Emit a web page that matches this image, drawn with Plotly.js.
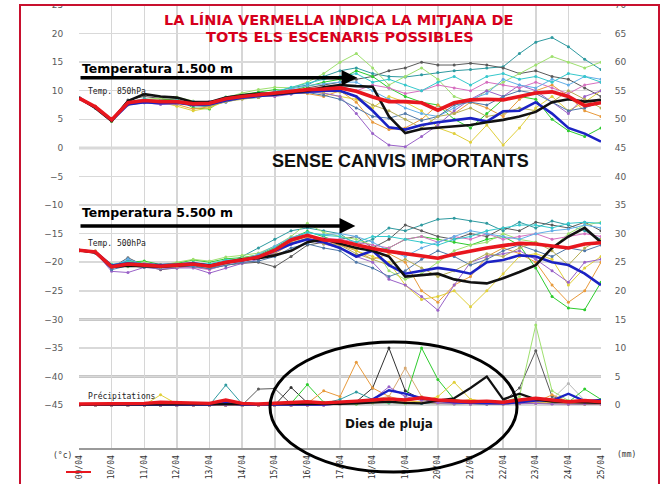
<!DOCTYPE html>
<html><head><meta charset="utf-8">
<script src="https://cdn.plot.ly/plotly-3.0.1.min.js"></script>
<style>html,body{margin:0;padding:0;background:#fff}#chart{width:662px;height:484px}</style>
</head><body><div id="chart"></div>
<script>
// time axis: days since 09/04, every 12 h
const days = [0,0.5,1,1.5,2,2.5,3,3.5,4,4.5,5,5.5,6,6.5,7,7.5,8,8.5,9,9.5,10,10.5,11,11.5,12,12.5,13,13.5,14,14.5,15,15.5,16];
const dayTicks = [0,1,2,3,4,5,6,7,8,9,10,11,12,13,14,15,16];
const dayLabels = ['09/04','10/04','11/04','12/04','13/04','14/04','15/04','16/04','17/04','18/04','19/04','20/04','21/04','22/04','23/04','24/04','25/04'];
const leftTicks = [-45,-40,-35,-30,-25,-20,-15,-10,-5,0,5,10,15,20,25];
const rightTicks = [0,5,10,15,20,25,30,35,40,45,50,55,60,65,70];

// ---- Temperature 850 hPa (°C)
const t850_mean  = [8.7,7.2,4.9,7.9,8.3,8.1,8.1,7.7,7.8,8.6,9.0,9.3,9.6,9.9,10.2,10.3,10.5,9.9,8.9,8.1,8.1,7.9,6.6,7.9,8.4,8.5,8.4,9.0,9.6,9.8,9.0,7.4,7.9];
const t850_black = [8.8,7.0,4.7,8.2,9.4,9.0,8.8,8.0,8.0,8.8,9.2,9.5,9.4,9.7,10.0,10.6,11.0,10.8,10.7,5.5,2.6,3.3,3.5,3.8,4.0,4.5,4.9,5.5,6.3,8.0,8.5,8.1,8.4];
const t850_blue  = [8.7,7.1,4.8,7.6,8.0,7.8,7.9,7.5,7.6,8.3,8.8,9.0,9.3,9.6,9.8,10.0,10.0,9.0,6.5,3.6,3.2,4.0,4.5,4.8,5.2,4.6,6.4,6.5,8.0,6.0,3.5,2.5,1.1];
const t850_teal   = [8.6,7.0,4.7,7.6,8.0,7.8,7.9,7.4,7.2,8.3,8.6,8.8,9.8,10.5,11.0,12.5,13.5,14.0,13.0,12.5,12.4,12.8,13.2,13.5,13.7,14.0,14.2,16.5,18.5,19.3,17.7,15.5,13.7];
const t850_gray   = [8.8,7.3,5.0,8.4,9.0,8.6,8.3,7.5,7.9,8.5,8.8,9.6,9.2,9.5,10.5,11.0,11.5,12.0,12.5,13.5,14.0,15.0,14.5,14.5,14.8,14.5,14.0,13.0,13.5,12.5,12.0,10.5,9.0];
const t850_green  = [8.7,7.1,4.6,7.8,8.2,8.4,8.6,7.0,6.8,8.9,9.3,9.8,10.2,10.0,10.8,11.5,12.0,13.5,12.5,10.5,9.0,8.0,7.5,5.0,3.5,6.0,8.5,9.0,8.5,5.0,3.0,2.0,3.5];
const t850_lgreen = [8.6,7.2,5.0,8.0,8.5,8.7,8.9,8.2,7.4,8.8,9.6,10.2,10.6,10.5,11.5,13.0,15.0,16.5,14.0,11.0,12.5,14.0,12.0,9.0,8.0,10.0,11.5,13.0,14.5,16.0,15.0,14.0,15.0];
const t850_orange = [8.8,7.3,4.8,7.7,8.1,7.9,7.6,6.8,7.2,8.4,8.8,9.0,9.1,9.6,9.5,9.0,10.0,8.0,4.5,3.2,3.5,5.0,7.5,6.0,8.0,7.0,5.5,8.5,10.0,11.0,9.0,6.5,5.5];
const t850_yellow = [8.7,7.2,4.6,7.5,7.9,8.0,7.3,6.5,7.0,8.2,8.7,9.1,9.4,9.9,10.0,9.5,9.0,8.5,7.0,9.0,8.0,6.5,3.5,2.5,1.0,4.0,0.5,3.5,7.0,9.0,6.5,8.0,10.0];
const t850_purple = [8.8,7.1,4.9,7.6,7.9,7.6,7.7,7.9,8.1,8.4,8.9,9.2,9.0,9.4,9.8,9.6,9.0,6.0,2.5,0.5,0.2,2.0,4.0,6.5,8.5,10.0,9.0,11.0,10.0,8.0,6.0,9.0,10.0];
const t850_pink   = [8.7,7.2,5.0,8.1,8.2,8.3,8.0,7.8,7.6,8.5,9.1,9.4,9.7,10.1,10.0,10.4,10.8,10.0,11.0,10.5,9.5,10.0,11.0,10.5,10.0,11.5,11.0,10.5,11.5,10.5,9.5,11.0,11.5];
const t850_lblue  = [8.6,7.0,4.8,7.9,8.3,8.0,8.2,8.1,7.9,8.7,9.2,9.0,9.5,10.3,10.9,11.2,11.5,11.5,10.0,8.5,7.0,6.0,5.5,7.0,8.5,9.5,12.0,11.0,10.5,12.0,11.0,12.5,12.0];
const t850_slate  = [8.7,7.1,4.9,7.7,8.4,8.1,8.0,7.4,7.5,8.0,8.7,8.9,9.9,9.5,9.7,9.2,8.5,7.0,5.5,5.2,6.0,4.8,5.5,7.5,8.0,7.5,9.0,10.0,9.5,8.0,6.5,7.0,8.0];
const t850_cyan   = [8.8,7.2,4.7,8.0,8.6,8.2,8.4,7.8,8.0,8.8,9.1,9.5,9.8,10.6,11.3,12.0,12.5,13.0,11.5,12.0,11.0,10.0,11.5,12.5,11.0,12.5,13.0,12.0,12.5,11.5,13.0,12.5,11.5];
const t850_khaki  = [8.7,7.3,4.9,7.8,8.1,8.0,7.8,7.6,7.3,8.1,8.5,8.8,9.3,9.7,9.9,9.8,9.8,9.0,7.5,6.5,5.0,3.5,5.5,6.0,7.0,5.5,6.0,7.0,6.5,8.0,10.0,8.5,7.0];

// ---- Temperature 500 hPa (°C)
const t500_mean  = [-17.9,-18.2,-20.8,-20.3,-20.5,-20.7,-20.5,-20.3,-20.7,-20.0,-19.6,-19.1,-17.9,-16.1,-15.3,-16.1,-16.3,-17.0,-17.6,-18.1,-18.5,-18.9,-19.3,-18.6,-18.0,-17.5,-17.1,-16.7,-16.8,-17.1,-17.5,-16.8,-16.6];
const t500_black = [-17.9,-18.3,-20.8,-20.6,-20.7,-20.8,-20.6,-20.4,-20.6,-20.0,-19.5,-19.3,-18.8,-18.0,-16.5,-16.0,-16.8,-17.5,-18.0,-19.0,-22.5,-22.3,-22.0,-23.0,-23.5,-23.7,-22.8,-21.7,-20.5,-17.5,-15.5,-14.0,-16.5];
const t500_blue  = [-17.9,-18.2,-20.6,-20.2,-20.4,-20.5,-20.4,-20.2,-20.6,-20.0,-19.7,-19.0,-18.0,-16.8,-16.0,-16.5,-17.5,-19.0,-18.0,-20.5,-22.0,-21.5,-21.0,-21.4,-22.0,-20.0,-19.6,-18.8,-19.0,-20.0,-20.5,-22.0,-24.0];
const t500_teal   = [-17.9,-18.4,-21.2,-19.6,-20.2,-20.9,-20.8,-20.0,-21.0,-20.3,-19.0,-17.5,-16.0,-14.5,-14.0,-14.5,-15.0,-17.0,-16.0,-14.0,-14.5,-13.5,-12.5,-12.3,-12.8,-13.2,-14.5,-13.0,-14.0,-12.8,-13.5,-14.5,-16.0];
const t500_gray   = [-18.0,-18.3,-21.0,-19.2,-20.6,-21.3,-21.0,-20.6,-21.2,-20.5,-20.2,-20.0,-20.8,-19.0,-17.0,-16.5,-16.0,-15.5,-17.5,-16.0,-13.5,-14.5,-15.5,-16.0,-15.0,-15.5,-14.0,-14.5,-13.0,-13.5,-14.0,-13.0,-14.5];
const t500_green  = [-17.9,-18.1,-20.5,-20.0,-19.8,-20.4,-20.2,-19.6,-20.0,-19.4,-19.2,-18.7,-17.4,-15.8,-14.6,-15.5,-16.5,-17.0,-18.0,-17.5,-16.0,-15.5,-16.0,-16.5,-17.0,-16.0,-15.5,-17.0,-21.0,-26.0,-28.0,-28.3,-23.5];
const t500_lgreen = [-17.8,-18.2,-20.3,-20.8,-20.0,-20.6,-20.0,-19.5,-19.8,-19.1,-18.8,-18.4,-17.2,-15.5,-13.2,-14.8,-15.5,-16.0,-17.0,-21.5,-23.0,-22.0,-20.0,-18.0,-17.0,-16.5,-15.0,-16.0,-16.5,-17.5,-15.0,-13.5,-13.0];
const t500_orange = [-17.9,-18.0,-20.9,-20.5,-20.8,-20.5,-20.3,-20.5,-20.9,-20.1,-19.8,-19.3,-18.5,-16.8,-15.8,-16.5,-17.0,-18.0,-19.5,-18.5,-20.0,-25.0,-27.0,-24.0,-22.5,-19.0,-17.5,-18.5,-20.0,-24.0,-27.0,-25.0,-20.0];
const t500_yellow = [-18.0,-18.3,-20.6,-20.2,-20.9,-20.8,-20.6,-20.2,-20.5,-19.8,-19.3,-18.8,-17.6,-16.4,-15.5,-16.0,-16.5,-18.0,-19.0,-20.0,-24.0,-26.5,-26.0,-25.0,-27.8,-25.0,-22.0,-19.0,-18.5,-19.5,-24.0,-21.0,-19.0];
const t500_purple = [-17.9,-18.3,-21.6,-21.8,-20.9,-21.2,-21.0,-21.0,-21.9,-21.0,-20.2,-19.5,-18.3,-16.9,-16.0,-16.8,-17.5,-19.0,-20.0,-23.0,-24.0,-26.0,-28.4,-24.0,-20.0,-19.0,-18.5,-18.0,-19.5,-21.5,-23.5,-20.0,-19.5];
const t500_pink   = [-17.8,-18.1,-20.7,-20.4,-20.2,-20.5,-20.8,-20.9,-21.3,-20.4,-19.7,-19.3,-18.0,-16.2,-15.4,-15.8,-16.0,-16.5,-17.0,-17.5,-16.0,-15.5,-16.5,-15.5,-16.0,-15.0,-16.0,-15.5,-15.0,-16.0,-15.5,-15.0,-15.5];
const t500_lblue  = [-17.9,-18.2,-21.0,-19.4,-20.5,-20.8,-20.3,-20.4,-20.6,-19.9,-19.5,-18.6,-17.2,-15.7,-14.8,-15.2,-15.0,-15.5,-16.5,-18.0,-19.0,-17.5,-16.5,-15.5,-14.5,-15.0,-15.5,-16.0,-15.0,-14.5,-14.2,-13.5,-14.0];
const t500_slate  = [-18.0,-18.4,-21.3,-20.6,-20.9,-21.0,-20.7,-20.8,-21.1,-20.6,-20.0,-19.8,-19.0,-17.5,-16.8,-17.5,-18.0,-20.0,-21.0,-22.5,-21.5,-19.5,-18.0,-19.0,-20.5,-19.5,-18.0,-17.0,-18.0,-19.0,-17.5,-18.0,-17.0];
const t500_cyan   = [-17.9,-18.2,-20.4,-19.9,-20.3,-20.6,-20.4,-20.1,-20.3,-19.6,-19.4,-18.9,-17.5,-15.9,-14.8,-15.3,-15.5,-16.5,-15.5,-15.5,-16.0,-16.5,-17.0,-16.0,-15.5,-14.5,-14.0,-13.5,-13.5,-14.0,-13.2,-13.0,-13.2];
const t500_khaki  = [-17.9,-18.1,-20.8,-20.4,-20.6,-20.9,-20.7,-20.4,-20.8,-20.2,-19.7,-19.2,-18.2,-16.6,-15.8,-16.8,-17.0,-18.5,-19.5,-20.5,-19.5,-21.0,-22.5,-21.5,-20.0,-18.5,-19.0,-17.5,-16.5,-18.0,-20.5,-17.5,-16.0];

// ---- Precipitation (mm, right axis)
const pr_mean   = [0.2,0.2,0.2,0.3,0.3,0.5,0.4,0.3,0.3,0.9,0.3,0.2,0.3,0.4,0.6,0.4,0.5,0.7,0.9,1.1,0.9,1.3,0.9,0.7,0.6,0.7,0.5,0.9,1.2,0.9,0.6,0.8,0.6];
const pr_black  = [0.1,0.1,0.1,0.1,0.1,0.1,0.1,0.1,0.1,0.2,0.1,0.1,0.1,0.1,0.1,0.1,0.2,0.3,0.5,0.6,0.4,0.3,0.8,1.2,3.0,5.0,1.0,2.0,1.0,0.6,0.5,0.5,0.4];
const pr_blue   = [0.1,0.1,0.1,0.1,0.1,0.1,0.1,0.1,0.1,0.4,0.1,0.1,0.1,0.1,0.2,0.1,0.3,0.5,1.0,2.6,2.0,1.2,0.8,0.5,0.4,0.3,0.3,0.5,0.8,0.8,2.0,0.7,0.9];
const pr_dark   = [0,0,0,0,0,0,0,0,0,0,0,0,0,3.1,0.4,0.1,0.3,0.6,3.0,10.0,2.5,1.0,0.4,0.3,0.2,0.2,0.2,0.3,0.5,0.3,0.2,0.2,0.2];
const pr_gray   = [0,0,0,0,0,0,0,0,0,0,0,2.8,2.9,0.2,0.1,0.1,0.2,0.3,0.5,0.4,0.3,0.4,0.3,0.2,0.3,0.4,0.6,3.0,9.5,1.5,0.6,0.4,0.3];
const pr_lgray  = [0,0,0,0,0,0,0,0,0,0,0,0,0,0,0,0,0.1,0.2,0.3,0.3,0.2,0.3,0.2,0.2,0.2,0.3,0.3,0.4,0.6,1.0,3.8,0.8,0.5];
const pr_green  = [0,0,0,0,0,0,0,0,0,0.5,0,0,0,0.3,3.6,0.5,0.3,0.2,0.5,0.4,1.0,10.0,4.5,1.0,0.5,0.3,0.4,0.6,1.2,0.8,0.5,2.8,1.0];
const pr_lgreen = [0,0,0,0,0,0,0,0,0,0,0,0,0,0,0.2,0.1,0.2,0.3,0.4,0.5,0.3,0.4,0.6,0.4,0.3,0.2,0.5,1.5,14.0,2.5,0.8,0.6,0.5];
const pr_teal   = [0,0,0,0,0,0,0,0,0,3.5,0.2,0,0,0,0.5,0.3,1.0,2.3,1.0,0.5,0.4,0.3,0.5,0.4,0.3,0.2,0.3,0.5,0.4,0.3,0.5,0.4,0.3];
const pr_orange = [0,0,0,0,0,0,0,0,0,0,0,0,0,0,0.3,2.5,1.5,7.5,3.0,1.5,0.8,0.5,0.4,0.6,1.0,0.5,0.3,0.4,0.5,1.8,0.6,0.3,0.3];
const pr_tan    = [0,0,0,0,0,0,0,0,0,0,0,0,0,0,0,0,0.2,0.4,1.0,1.5,6.5,1.5,0.5,0.4,0.3,0.3,0.2,0.3,0.4,0.5,0.3,0.2,0.2];
const pr_yellow = [0,0,0,0,0,1.8,0.2,0,0,0,0,0,0,0,0,0.2,0.3,0.5,0.6,0.8,0.5,0.6,1.5,4.0,1.0,0.6,0.4,0.3,0.3,0.4,0.3,0.2,0.2];
const pr_purple = [0,0,0,0,0,0,0,0,0,0,0,0,0,0,0,0,0.2,0.5,1.0,3.2,1.5,0.8,0.4,0.3,0.2,0.2,0.2,0.3,0.3,0.2,0.2,0.2,0.2];

const C = {teal:'#2f9aa0', gray:'#5a5a5a', green:'#2ecc2e', lgreen:'#9ee06e', orange:'#e89a3c', yellow:'#e0cf3a',
  purple:'#9a62c8', pink:'#d66fc0', lblue:'#62aee6', slate:'#4f78a8', cyan:'#35c8cc', khaki:'#b5ad55',
  dark:'#303030', lgray:'#b8b8b8', tan:'#d8a870'};

const traces = [];
function thin(y, col, axis){
  traces.push({x: days, y: y, type:'scatter', mode:'lines+markers', yaxis: axis||'y',
    line:{color:col, width:1}, marker:{color:col, size:3}, hoverinfo:'skip'});
}
function thick(y, col, w, axis){
  traces.push({x: days, y: y, type:'scatter', mode:'lines', yaxis: axis||'y',
    line:{color:col, width:w}, hoverinfo:'skip'});
}
[[t850_teal,'teal'],[t850_gray,'gray'],[t850_green,'green'],[t850_lgreen,'lgreen'],[t850_orange,'orange'],[t850_yellow,'yellow'],
 [t850_purple,'purple'],[t850_pink,'pink'],[t850_lblue,'lblue'],[t850_slate,'slate'],[t850_cyan,'cyan'],[t850_khaki,'khaki']]
 .forEach(d=>thin(d[0], C[d[1]]));
[[t500_teal,'teal'],[t500_gray,'gray'],[t500_green,'green'],[t500_lgreen,'lgreen'],[t500_orange,'orange'],[t500_yellow,'yellow'],
 [t500_purple,'purple'],[t500_pink,'pink'],[t500_lblue,'lblue'],[t500_slate,'slate'],[t500_cyan,'cyan'],[t500_khaki,'khaki']]
 .forEach(d=>thin(d[0], C[d[1]]));
[[pr_dark,'dark'],[pr_gray,'gray'],[pr_lgray,'lgray'],[pr_green,'green'],[pr_lgreen,'lgreen'],[pr_teal,'teal'],
 [pr_orange,'orange'],[pr_tan,'tan'],[pr_yellow,'yellow'],[pr_purple,'purple']]
 .forEach(d=>thin(d[0], C[d[1]], 'y2'));
thick(t850_blue,'#1b22c4',2.6); thick(t850_black,'#111111',2.6); thick(t850_mean,'#e8161e',3.6);
thick(t500_blue,'#1b22c4',2.6); thick(t500_black,'#111111',2.6); thick(t500_mean,'#e8161e',3.6);
thick(pr_blue,'#1b22c4',2.4,'y2'); thick(pr_black,'#111111',2.2,'y2'); thick(pr_mean,'#e8161e',3.4,'y2');

// pixel -> paper helpers (plot area: x 79..601, y 5..448)
const px = v => (v-79)/522, py = v => (448-v)/443;

const tickFont = {family:'DejaVu Sans, Verdana, sans-serif', size:9, color:'#5a5a5a'};
const layout = {
  width:662, height:484, margin:{l:79, r:61, t:5, b:36},
  paper_bgcolor:'#ffffff', plot_bgcolor:'#ffffff', showlegend:false,
  xaxis:{range:[0,16], tickmode:'array', tickvals:dayTicks, ticktext:dayLabels, tickangle:-90,
    showgrid:true, gridcolor:'#d6d6d6', gridwidth:1.5, zeroline:false,
    showline:true, linecolor:'#9a9a9a', linewidth:2, ticks:'outside', ticklen:2, tickcolor:'rgba(0,0,0,0)',
    tickfont:{family:'DejaVu Sans Mono, monospace', size:8, color:'#333'}, fixedrange:true},
  yaxis:{range:[-52.5,25], tickmode:'array', tickvals:leftTicks, showgrid:true, gridcolor:'#d9d9d9', gridwidth:1.5,
    zeroline:false, ticks:'outside', ticklen:13, tickcolor:'rgba(0,0,0,0)', tickfont:tickFont, fixedrange:true},
  yaxis2:{range:[-7.5,70], overlaying:'y', side:'right', tickmode:'array', tickvals:rightTicks, showgrid:false,
    zeroline:false, ticks:'outside', ticklen:11, tickcolor:'rgba(0,0,0,0)', tickfont:tickFont, fixedrange:true},
  shapes:[
    {type:'line', xref:'paper', x0:0, x1:1, yref:'y', y0:0, y1:0, line:{color:'#b4b4b4', width:2.5}, layer:'below'},
    {type:'line', xref:'paper', x0:0, x1:1, yref:'y', y0:-30, y1:-30, line:{color:'#b4b4b4', width:2.5}, layer:'below'},
    {type:'line', xref:'paper', x0:0, x1:1, yref:'y', y0:-40, y1:-40, line:{color:'#b4b4b4', width:2.5}, layer:'below'},
    {type:'rect', xref:'paper', yref:'paper', x0:-0.3, x1:1.3, y0:1.0, y1:1.05, fillcolor:'#ffffff', line:{width:0}, layer:'above'},
    {type:'rect', xref:'paper', yref:'paper', x0:px(20), x1:px(659), y0:-0.2, y1:py(5), line:{color:'#c8102e', width:2}, fillcolor:'rgba(0,0,0,0)', layer:'above'},
    {type:'circle', xref:'paper', yref:'paper', x0:px(270), x1:px(517), y0:py(472), y1:py(342), line:{color:'#000', width:3}, layer:'above'},
    {type:'line', xref:'paper', yref:'paper', x0:px(66), x1:px(91), y0:py(472), y1:py(472), line:{color:'#e8161e', width:2}, layer:'above'}
  ],
  annotations:[
    {xref:'paper', yref:'paper', x:px(338), y:py(20), text:'LA LÍNIA VERMELLA INDICA LA MITJANA DE', showarrow:false,
      font:{family:'DejaVu Sans', size:14.5, color:'#d6001c', weight:700}, xanchor:'center', yanchor:'middle'},
    {xref:'paper', yref:'paper', x:px(340), y:py(37), text:'TOTS ELS ESCENARIS POSSIBLES', showarrow:false,
      font:{family:'DejaVu Sans', size:14.5, color:'#d6001c', weight:700}, xanchor:'center', yanchor:'middle'},
    {xref:'paper', yref:'paper', x:px(80), y:py(69), text:'Temperatura 1.500 m', showarrow:false,
      font:{family:'DejaVu Sans', size:12.5, color:'#000', weight:700}, xanchor:'left', yanchor:'middle'},
    {xref:'paper', yref:'paper', x:px(80), y:py(212), text:'Temperatura 5.500 m', showarrow:false,
      font:{family:'DejaVu Sans', size:12.5, color:'#000', weight:700}, xanchor:'left', yanchor:'middle'},
    {x:8.53, y:12.26, ax:0, ay:12.26, xref:'x', yref:'y', axref:'x', ayref:'y', text:'', showarrow:true,
      arrowhead:2, arrowsize:0.9, arrowwidth:3.5, arrowcolor:'#000'},
    {x:8.47, y:-13.66, ax:0, ay:-13.66, xref:'x', yref:'y', axref:'x', ayref:'y', text:'', showarrow:true,
      arrowhead:2, arrowsize:0.9, arrowwidth:3.5, arrowcolor:'#000'},
    {xref:'paper', yref:'paper', x:px(86), y:py(91), text:'Temp. 850hPa', showarrow:false,
      font:{family:'DejaVu Sans Mono', size:8, color:'#222'}, xanchor:'left', yanchor:'middle'},
    {xref:'paper', yref:'paper', x:px(86), y:py(243), text:'Temp. 500hPa', showarrow:false,
      font:{family:'DejaVu Sans Mono', size:8, color:'#222'}, xanchor:'left', yanchor:'middle'},
    {xref:'paper', yref:'paper', x:px(86), y:py(396), text:'Précipitations', showarrow:false,
      font:{family:'DejaVu Sans Mono', size:8, color:'#222'}, xanchor:'left', yanchor:'middle'},
    {xref:'paper', yref:'paper', x:px(400), y:py(161), text:'SENSE CANVIS IMPORTANTS', showarrow:false,
      font:{family:'Liberation Sans, Arial, sans-serif', size:18, color:'#111', weight:700}, xanchor:'center', yanchor:'middle'},
    {xref:'paper', yref:'paper', x:px(343), y:py(424), text:'Dies de pluja', showarrow:false,
      font:{family:'DejaVu Sans', size:12, color:'#111', weight:700}, xanchor:'left', yanchor:'middle'},
    {xref:'paper', yref:'paper', x:px(62), y:py(455), text:'(°c)', showarrow:false,
      font:{family:'DejaVu Sans Mono', size:8, color:'#333'}, xanchor:'center', yanchor:'middle'},
    {xref:'paper', yref:'paper', x:px(626), y:py(454), text:'(mm)', showarrow:false,
      font:{family:'DejaVu Sans Mono', size:8, color:'#333'}, xanchor:'center', yanchor:'middle'}
  ]
};
Plotly.newPlot('chart', traces, layout, {staticPlot:true, displayModeBar:false});
</script></body></html>
